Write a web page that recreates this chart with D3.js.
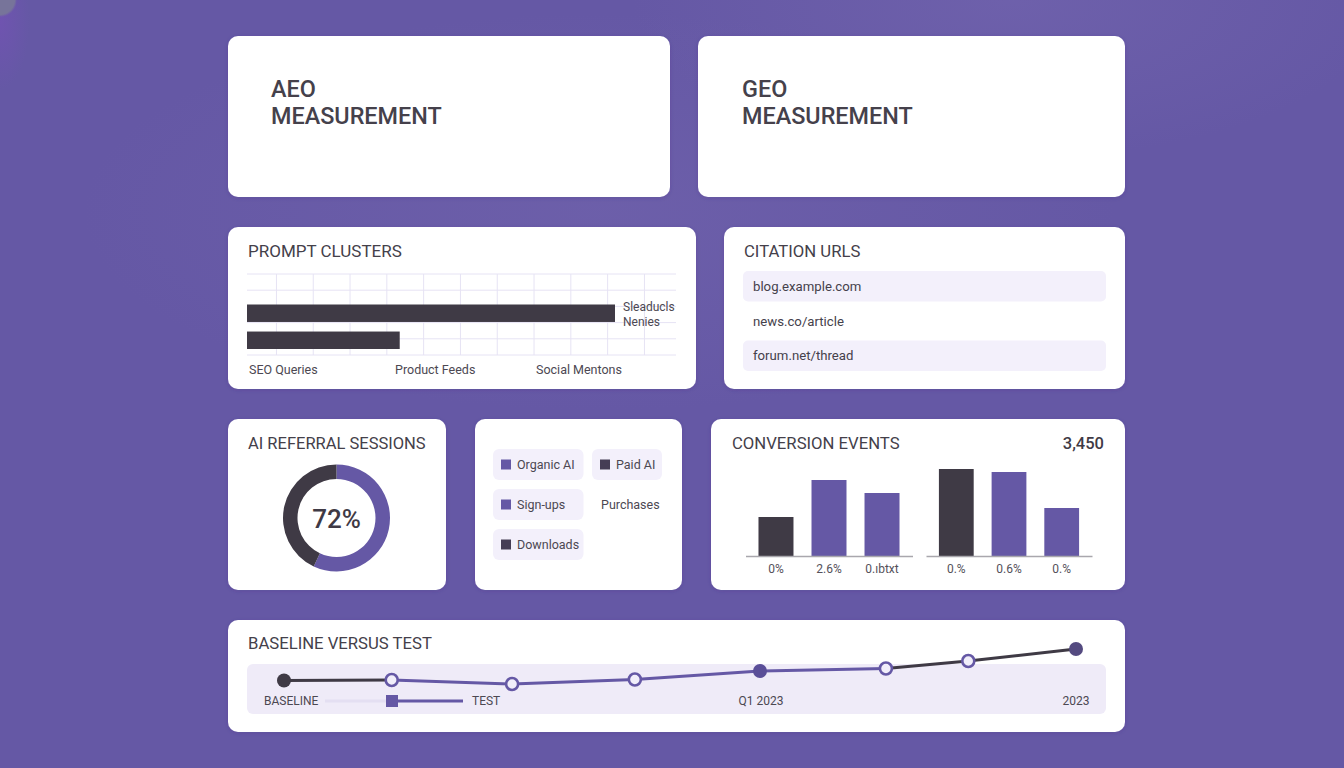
<!DOCTYPE html>
<html>
<head>
<meta charset="utf-8">
<script src="https://cdnjs.cloudflare.com/ajax/libs/d3/7.8.5/d3.min.js"></script>
<style>
  html, body { margin: 0; padding: 0; overflow: hidden; }
  body {
    width: 1344px; height: 768px;
    background:
      radial-gradient(circle 17px at 0 0, #77749a 85%, transparent 100%),
      radial-gradient(ellipse 30px 70px at 0 20px, rgba(120,80,185,.55), transparent),
      radial-gradient(ellipse 380px 160px at 1010px 0px, rgba(130,115,185,.3), transparent),
      radial-gradient(ellipse 520px 200px at 600px 212px, rgba(125,110,180,.3), transparent),
      #6558a5;
  }
  svg { display: block; font-family: Roboto, sans-serif; }
  .card { fill: #fff; }
  .title { font-size: 16.7px; fill: #44404a; }
  .big { font-size: 23.4px; font-weight: 500; fill: #45414b; }
  .small { font-size: 12.5px; fill: #4c4852; }
  .axis text { font-size: 12px; fill: #55515a; font-family: Roboto, sans-serif; }
</style>
</head>
<body>
<div id="wrapper"></div>
<script>
const purple = "#6558a5";
const dark = "#3f3a45";

// prompt clusters
const clusterValues = [100, 41.5];
const clusterLabels = ["SEO Queries", "Product Feeds", "Social Mentons"];
const clusterSideLabels = ["Sleaducls", "Nenies"];
const clusterGridX = [8, 18, 28, 38, 48, 58, 68, 78, 88, 98, 108];
const clusterGridY = [0, 1, 2, 3, 4, 5];

// citation urls
const citationUrls = ["blog.example.com", "news.co/article", "forum.net/thread"];
const citationShaded = [true, false, true];

// referral sessions
const donutValues = [57, 43];
const donutLabel = "72%";

// legend panel
const legendLabels = ["Organic AI", "Paid AI", "Sign-ups", "Purchases", "Downloads"];
const legendKinds = ["test", "base", "test", null, "base"];

// conversion events
const conversionLeft = [39, 76, 63];
const conversionRight = [87, 84, 48];
const conversionLeftColors = [dark, purple, purple];
const conversionRightColors = [dark, purple, purple];
const conversionLeftLabels = ["0%", "2.6%", "0.ıbtxt"];
const conversionRightLabels = ["0.%", "0.6%", "0.%"];
const conversionTotal = "3,450";

// baseline versus test
const trendTime = [0, 13.6, 28.8, 44.3, 60.1, 76, 86.4, 100];
const trendValues = [19, 20, 12, 21, 38, 43, 58, 82];
const trendStyle = ["dark", "open", "open", "open", "fill", "open", "open", "end"];
const trendSegments = [dark, purple, purple, purple, purple, dark, dark];

const svg = d3.select("#wrapper").append("svg").attr("width", 1344).attr("height", 768);

const defs = svg.append("defs");
const shadow = defs.append("filter").attr("id", "shadow")
  .attr("x", "-5%").attr("y", "-10%").attr("width", "110%").attr("height", "120%");
shadow.append("feDropShadow").attr("dx", 0).attr("dy", 1).attr("stdDeviation", 2)
  .attr("flood-color", "#3a2f70").attr("flood-opacity", 0.18);

function card(x, y, w, h) {
  svg.append("rect").attr("class", "card").attr("x", x).attr("y", y)
    .attr("width", w).attr("height", h).attr("rx", 10).attr("filter", "url(#shadow)");
}
function title(x, y, text) {
  return svg.append("text").attr("class", "title").attr("x", x).attr("y", y)
    .attr("dominant-baseline", "central").text(text);
}

card(228, 36, 442, 161);
card(698, 36, 427, 161);
card(228, 227, 468, 162);
card(724, 227, 401, 162);
card(228, 419, 218, 171);
card(475, 419, 207, 171);
card(711, 419, 414, 171);
card(228, 620, 897, 112);

// headline cards
[[271, "AEO"], [742, "GEO"]].forEach(([x, name]) => {
  svg.append("text").attr("class", "big").attr("x", x).attr("y", 89)
    .attr("dominant-baseline", "central").text(name);
  svg.append("text").attr("class", "big").attr("x", x).attr("y", 116)
    .attr("dominant-baseline", "central").text("MEASUREMENT");
});

// prompt clusters
title(248, 251, "PROMPT CLUSTERS").style("font-size", "17px");
const clusterX = d3.scaleLinear().domain([0, 100]).range([247, 615]);
const clusterGrid = d3.scaleLinear().domain([0, 5]).range([274, 355]);
svg.append("g").selectAll("line").data(clusterGridX).join("line")
  .attr("x1", (d) => clusterX(d)).attr("x2", (d) => clusterX(d))
  .attr("y1", 274).attr("y2", 355)
  .attr("stroke", "#e6e3f4").attr("stroke-width", 1);
svg.append("g").selectAll("line").data(clusterGridY).join("line")
  .attr("x1", 247).attr("x2", 676)
  .attr("y1", (d) => clusterGrid(d)).attr("y2", (d) => clusterGrid(d))
  .attr("stroke", "#e6e3f4").attr("stroke-width", 1);
const clusterY = d3.scaleBand().domain(d3.range(clusterValues.length))
  .range([304.5, 349]).paddingInner(0.354).paddingOuter(0);
svg.append("g").selectAll("rect").data(clusterValues).join("rect")
  .attr("x", clusterX(0))
  .attr("y", (d, i) => clusterY(i))
  .attr("width", (d) => clusterX(d) - clusterX(0))
  .attr("height", clusterY.bandwidth())
  .attr("fill", dark);
svg.append("g").selectAll("text").data(clusterSideLabels).join("text")
  .attr("class", "small").attr("x", 623)
  .attr("y", (d, i) => 306.5 + i * 15)
  .attr("dominant-baseline", "central").style("font-size", "12px").text((d) => d);
svg.append("g").selectAll("text").data(clusterLabels).join("text")
  .attr("class", "small").attr("x", (d, i) => [249, 395, 536][i]).attr("y", 369)
  .attr("dominant-baseline", "central").text((d) => d);

// citation urls
title(744, 251, "CITATION URLS");
const citationY = d3.scaleBand().domain(d3.range(citationUrls.length))
  .range([271, 371]).paddingInner(0.12);
svg.append("g").selectAll("rect").data(citationUrls).join("rect")
  .attr("x", 743).attr("y", (d, i) => citationY(i))
  .attr("width", 363).attr("height", citationY.bandwidth()).attr("rx", 5)
  .attr("fill", (d, i) => (citationShaded[i] ? "#f3f0fb" : "none"));
svg.append("g").selectAll("text").data(citationUrls).join("text")
  .attr("x", 753).attr("y", (d, i) => citationY(i) + citationY.bandwidth() / 2)
  .attr("dominant-baseline", "central")
  .style("font-size", "13.2px").attr("fill", "#45414b").text((d) => d);

// referral donut
title(248, 443, "AI REFERRAL SESSIONS").style("font-size", "16.5px");
const donut = d3.pie().sort(null)(donutValues);
const donutArc = d3.arc().innerRadius(39).outerRadius(53.5);
svg.append("g").attr("transform", "translate(336.5,518)")
  .selectAll("path").data(donut).join("path")
  .attr("d", donutArc).attr("fill", (d, i) => [purple, dark][i]);
svg.append("text").attr("x", 336.5).attr("y", 519)
  .attr("text-anchor", "middle").attr("dominant-baseline", "central")
  .style("font-size", "26px").style("font-weight", 500).attr("fill", dark).text(donutLabel);

// legend chips
const legendColX = [493, 592];
const legendChipW = [90.5, 70];
const legendRow = d3.scaleBand().domain(d3.range(3)).range([449, 560]).paddingInner(0.225);
const legend = svg.append("g").selectAll("g")
  .data(legendLabels.map((label, i) => ({ label, kind: legendKinds[i], col: i % 2, row: Math.floor(i / 2) })))
  .join("g")
  .attr("transform", (d) => `translate(${legendColX[d.col]},${legendRow(d.row)})`);
legend.filter((d) => d.kind).append("rect")
  .attr("width", (d) => legendChipW[d.col])
  .attr("height", legendRow.bandwidth()).attr("rx", 6).attr("fill", "#f3f0fb");
legend.filter((d) => d.kind).append("rect")
  .attr("x", 8).attr("y", legendRow.bandwidth() / 2 - 5)
  .attr("width", 10).attr("height", 10)
  .attr("fill", (d) => (d.kind === "test" ? purple : "#453d55"));
legend.append("text").attr("class", "small")
  .attr("x", (d) => (d.kind ? 24 : 9))
  .attr("y", legendRow.bandwidth() / 2)
  .attr("dominant-baseline", "central").text((d) => d.label);

// conversion events
title(732, 443, "CONVERSION EVENTS");
svg.append("text").attr("x", 1104).attr("y", 443).attr("text-anchor", "end")
  .attr("dominant-baseline", "central")
  .style("font-size", "16.5px").style("font-weight", 500).attr("fill", dark).text(conversionTotal);
const conversionY = d3.scaleLinear().domain([0, 100]).range([556, 456]);
function conversionGroup(range, values, colors, labels) {
  const x = d3.scaleBand().domain(d3.range(values.length)).range(range)
    .paddingInner(0.34).paddingOuter(0.245);
  svg.append("g").selectAll("rect").data(values).join("rect")
    .attr("x", (d, i) => x(i)).attr("y", (d) => conversionY(d))
    .attr("width", x.bandwidth()).attr("height", (d) => conversionY(0) - conversionY(d))
    .attr("fill", (d, i) => colors[i]);
  const axis = svg.append("g").attr("class", "axis")
    .attr("transform", `translate(0,${conversionY(0)})`)
    .call(d3.axisBottom(x).tickSize(0).tickPadding(8).tickFormat((i) => labels[i]));
  axis.select(".domain").attr("stroke", "#a9a7ad").attr("stroke-width", 1.5);
}
conversionGroup([745.5, 912.5], conversionLeft, conversionLeftColors, conversionLeftLabels);
conversionGroup([926, 1092], conversionRight, conversionRightColors, conversionRightLabels);

// baseline versus test
title(248, 643, "BASELINE VERSUS TEST");
svg.append("rect").attr("x", 247).attr("y", 664).attr("width", 859).attr("height", 50)
  .attr("rx", 6).attr("fill", "#efebf8");
const trendX = d3.scaleLinear().domain([0, 100]).range([284, 1076]);
const trendY = d3.scaleLinear().domain([0, 100]).range([690, 640]);
svg.append("g").selectAll("line").data(trendSegments).join("line")
  .attr("x1", (d, i) => trendX(trendTime[i])).attr("y1", (d, i) => trendY(trendValues[i]))
  .attr("x2", (d, i) => trendX(trendTime[i + 1])).attr("y2", (d, i) => trendY(trendValues[i + 1]))
  .attr("stroke", (d) => d).attr("stroke-width", 3);
svg.append("g").selectAll("circle").data(trendValues).join("circle")
  .attr("cx", (d, i) => trendX(trendTime[i])).attr("cy", (d) => trendY(d))
  .attr("r", (d, i) => (trendStyle[i] === "open" ? 6 : 7))
  .attr("fill", (d, i) => ({ dark: dark, open: "#f1eefa", fill: "#5a4e98", end: "#544a80" })[trendStyle[i]])
  .attr("stroke", (d, i) => (trendStyle[i] === "open" ? purple : "none"))
  .attr("stroke-width", 2.6);

// key inside the band
svg.append("text").attr("class", "small").attr("x", 264).attr("y", 701)
  .attr("dominant-baseline", "central").style("font-size", "12px").text("BASELINE");
svg.append("line").attr("x1", 325).attr("x2", 392).attr("y1", 701).attr("y2", 701)
  .attr("stroke", "#e4dff2").attr("stroke-width", 3);
svg.append("line").attr("x1", 392).attr("x2", 463).attr("y1", 701).attr("y2", 701)
  .attr("stroke", purple).attr("stroke-width", 3);
svg.append("rect").attr("x", 386).attr("y", 695).attr("width", 12).attr("height", 12).attr("fill", purple);
svg.append("text").attr("class", "small").attr("x", 472).attr("y", 701)
  .attr("dominant-baseline", "central").style("font-size", "12px").text("TEST");
svg.append("text").attr("class", "small").attr("x", 761).attr("y", 701).attr("text-anchor", "middle")
  .attr("dominant-baseline", "central").style("font-size", "12px").text("Q1 2023");
svg.append("text").attr("class", "small").attr("x", 1076).attr("y", 701).attr("text-anchor", "middle")
  .attr("dominant-baseline", "central").style("font-size", "12px").text("2023");
</script>
</body>
</html>
